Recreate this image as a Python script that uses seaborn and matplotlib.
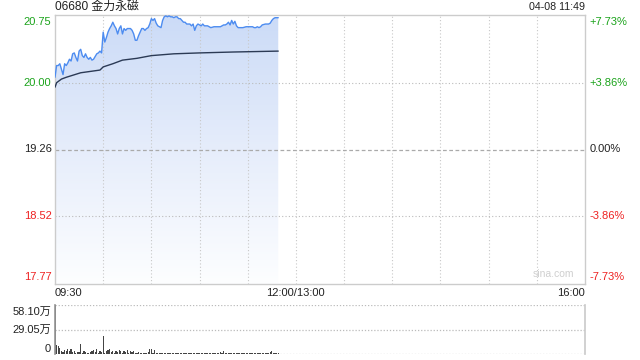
import numpy as np
import pandas as pd
import matplotlib
matplotlib.use("Agg")
import matplotlib.pyplot as plt
from matplotlib.colors import LinearSegmentedColormap
import seaborn as sns

sns.set_theme(style="white")
plt.rcParams['font.family'] = ['Liberation Sans', 'Noto Sans CJK SC', 'DejaVu Sans']

# ---------------- data ----------------
title = "06680 金力永磁"
stamp = "04-08 11:49"
prev_close = 19.26
price_ticks = [20.75, 20.00, 19.26, 18.52, 17.77]
pct_ticks = ["+7.73%", "+3.86%", "0.00%", "-3.86%", "-7.73%"]
time_labels = ["09:30", "12:00/13:00", "16:00"]
vol_ticks = ["0", "29.05万", "58.10万"]
vol_max = 58.10

# minutes since 09:30
price_min = [0, 1, 2, 3, 5, 6, 7, 8, 9, 10, 11, 12, 13, 14, 15, 16, 17, 18, 19, 20,
             21, 22, 23, 24, 26, 27, 28, 29, 30, 31, 32, 33, 34, 35, 36, 37, 38, 39, 40,
             41, 42, 43, 44, 45, 47, 48, 49, 50, 51, 52, 53, 54, 55, 56, 57, 58, 59, 60,
             61, 62, 63, 64, 65, 66, 67, 68, 69, 70, 71, 72, 73, 74, 75, 76, 77, 78, 79,
             80, 81, 82, 83, 84, 85, 86, 87, 88, 89, 90, 91, 92, 93, 95, 96, 97, 99, 101,
             103, 104, 105, 106, 107, 108, 109, 110, 111, 112, 113, 114, 115, 117, 119,
             121, 123, 124, 125, 126, 127, 128, 129, 131, 133, 134, 135, 136, 137, 139]
price_val = [20.06, 20.19, 20.19, 20.21, 20.09, 20.21, 20.19, 20.22, 20.26, 20.24, 20.32,
             20.33, 20.28, 20.24, 20.35, 20.37, 20.30, 20.28, 20.32, 20.28, 20.26, 20.28,
             20.25, 20.26, 20.32, 20.33, 20.35, 20.33, 20.56, 20.45, 20.50, 20.56, 20.60,
             20.63, 20.67, 20.63, 20.60, 20.54, 20.60, 20.63, 20.54, 20.60, 20.58, 20.60,
             20.60, 20.58, 20.54, 20.47, 20.47, 20.52, 20.56, 20.60, 20.60, 20.58, 20.60,
             20.61, 20.65, 20.71, 20.69, 20.71, 20.66, 20.63, 20.62, 20.61, 20.69, 20.73,
             20.74, 20.73, 20.74, 20.73, 20.73, 20.72, 20.73, 20.73, 20.71, 20.71, 20.69,
             20.67, 20.67, 20.65, 20.65, 20.65, 20.63, 20.65, 20.58, 20.63, 20.65, 20.64,
             20.63, 20.65, 20.63, 20.63, 20.62, 20.61, 20.62, 20.62, 20.62, 20.63, 20.64,
             20.64, 20.65, 20.67, 20.64, 20.69, 20.65, 20.68, 20.63, 20.61, 20.61, 20.61,
             20.62, 20.62, 20.62, 20.61, 20.61, 20.62, 20.61, 20.62, 20.64, 20.65, 20.65,
             20.66, 20.69, 20.71, 20.72, 20.72]

avg_min = [0, 1, 4, 7, 16, 28, 30, 36, 42, 51, 60, 74, 90, 111, 139]
avg_val = [19.95, 20.00, 20.04, 20.06, 20.11, 20.14, 20.175, 20.21, 20.25, 20.27,
           20.30, 20.32, 20.33, 20.34, 20.35]

# volume per minute (万)
volume = [58.1,
          10.5, 10.0, 7.5, 3.0, 2.0, 5.0, 3.5, 6.5, 4.0, 6.0,
          2.5, 4.0, 1.5, 2.0, 2.5, 12.0, 1.5, 3.0, 2.0, 1.5,
          1.0, 2.0, 3.5, 4.5, 2.0, 6.5, 1.5, 3.0, 2.5, 21.0,
          1.5, 3.0, 4.5, 6.5, 2.0, 3.0, 1.5, 4.0, 2.0, 4.5,
          3.0, 1.5, 4.0, 2.5, 5.0, 1.5, 3.5, 2.0, 3.0, 1.0,
          1.5, 2.0, 1.0, 1.5, 0.8, 1.0, 1.5, 2.0, 5.5, 6.5,
          1.0, 4.5, 1.0, 0.8, 1.2, 0.8, 1.5, 1.0, 0.8, 1.2,
          1.0, 0.6, 1.3, 0.8, 1.0, 1.2, 0.7, 1.0, 1.5, 0.8,
          1.1, 0.6, 0.9, 1.3, 0.8, 1.6, 0.7, 1.0, 1.2, 0.6,
          0.9, 1.4, 0.8, 1.1, 0.7, 1.3, 1.0, 0.8, 1.5, 1.1,
          0.9, 1.2, 1.8, 1.0, 3.0, 1.3, 0.9, 1.6, 1.1, 0.8,
          1.4, 1.0, 0.7, 1.2, 0.9, 1.5, 0.8, 1.1, 0.7, 1.3,
          1.0, 0.8, 1.2, 0.9, 1.6, 0.7, 1.1, 1.4, 0.8, 1.0,
          1.3, 0.9, 1.5, 2.5, 3.0, 1.2, 0.9, 1.1, 0.8]
vol_min = list(range(len(volume)))

TOTAL = 330
price_df = pd.DataFrame({"m": price_min, "p": price_val})
avg_df = pd.DataFrame({"m": avg_min, "p": avg_val})

# ---------------- figure ----------------
fig = plt.figure(figsize=(6.4, 3.6), dpi=100)
ax = fig.add_axes([55/640, 1-284/360, 530/640, 269/360])
axv = fig.add_axes([55/640, 1-354/360, 530/640, 49/360])

ymin, ymax = price_ticks[-1], price_ticks[0]

# gradient fill under price line
poly = ax.fill_between(price_df["m"], price_df["p"], ymin, color="none", linewidth=0)
cmap = LinearSegmentedColormap.from_list("g", ["#fdfeff", "#e6edfb", "#cbdbf7"])
grad = np.linspace(0, 1, 256).reshape(-1, 1)
im = ax.imshow(grad, extent=[0, price_min[-1], ymin, ymax], origin="lower",
               aspect="auto", cmap=cmap, zorder=1)
path = poly.get_paths()[0]
im.set_clip_path(path, transform=ax.transData)

# grid (drawn over the fill)
for m in range(30, TOTAL, 30):
    ax.axvline(m, color="#c8c8c8", lw=0.8, ls=(0, (1, 2)), zorder=2)
for v in [20.00, 18.52]:
    ax.axhline(v, color="#bbbbbb", lw=0.8, ls=(0, (1, 2)), zorder=2)
ax.axhline(prev_close, color="#aaaaaa", lw=0.9, ls=(0, (3, 2)), zorder=2)

sns.lineplot(data=price_df, x="m", y="p", ax=ax, color="#4d8cf0", lw=1.0,
             estimator=None, zorder=3)
sns.lineplot(data=avg_df, x="m", y="p", ax=ax, color="#2b3a55", lw=1.0,
             estimator=None, zorder=3)

ax.set_xlim(0, TOTAL)
ax.set_ylim(ymin, ymax)
ax.set_xticks([])
ax.set_yticks([])
ax.set_xlabel("")
ax.set_ylabel("")
for s in ax.spines.values():
    s.set_color("#cccccc")
    s.set_linewidth(1.0)

FS = 8
# y labels
lab_colors = ["#1aa31a", "#1aa31a", "#222222", "#ee2222", "#ee2222"]
vas = ["top", "center", "center", "center", "bottom"]
for v, pc, c, va in zip(price_ticks, pct_ticks, lab_colors, vas):
    off = {"top": -1.5, "center": 0, "bottom": 1.5}[va]
    ax.annotate(f"{v:.2f}", (0, v), xycoords=("axes fraction", "data"),
                xytext=(-2.5, off), textcoords="offset points", ha="right", va=va,
                fontsize=FS, color=c)
    ax.annotate(pc, (1, v), xycoords=("axes fraction", "data"),
                xytext=(3, off), textcoords="offset points", ha="left", va=va,
                fontsize=FS, color=c)

# x labels
fig.text(55/640, 1-293/360, time_labels[0], ha="left", va="center", fontsize=FS, color="#222222")
fig.text(295.5/640, 1-293/360, time_labels[1], ha="center", va="center", fontsize=FS, color="#222222")
fig.text(585/640, 1-293/360, time_labels[2], ha="right", va="center", fontsize=FS, color="#222222")

# title and timestamp
fig.text(55/640, 1-7/360, title, ha="left", va="center", fontsize=8.6, color="#222222")
fig.text(585/640, 1-7/360, stamp, ha="right", va="center", fontsize=7.7, color="#222222")

# watermark
ax.text(0.94, 0.02, "sina.com", transform=ax.transAxes, ha="center", va="bottom",
        fontsize=7.5, color="#cfcfcf")

# ---------------- volume ----------------
axv.bar(vol_min, volume, width=0.75, color="#444444", linewidth=0, zorder=2)
axv.set_xlim(0, TOTAL)
axv.set_ylim(0, vol_max)
axv.set_xticks([])
axv.set_yticks([])
for v in [0, vol_max / 2, vol_max]:
    axv.axhline(v, color="#bbbbbb", lw=0.9, ls=(0, (1, 1.5)), zorder=0.5)
for k in ["top", "bottom"]:
    axv.spines[k].set_visible(False)
axv.spines["left"].set_color("#999999")
axv.spines["right"].set_color("#cccccc")

vlab_y = [349.5, 329.5, 311.5]
for t, yy in zip(vol_ticks, vlab_y):
    fig.text(51/640, 1-yy/360, t, ha="right", va="center", fontsize=FS, color="#222222")

fig.savefig("out.png", dpi=100)
